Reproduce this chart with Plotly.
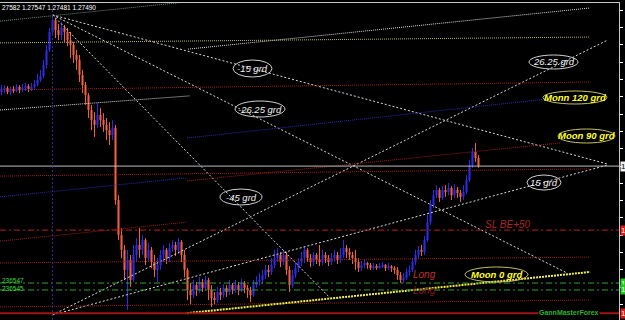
import plotly.graph_objects as go

# ---------------- data (prices in points: price = 1.27 + pts * 1e-5) ----------------
BASE = 1.27
PT = 1e-5

open_pts = [704,710,716,704,713,707,719,710,716,721,
            713,719,727,739,750,782,826,878,912,883,
            869,889,878,854,840,811,797,753,724,695,
            652,623,609,638,623,609,594,580,600,392,
            291,248,190,219,161,233,262,248,276,224,
            248,213,190,204,233,248,224,253,262,248,
            271,233,190,132,117,146,132,155,138,161,
            132,109,103,126,117,138,126,146,132,146,
            132,152,138,132,117,146,155,161,175,190,
            184,204,224,233,213,233,190,146,175,195,
            213,224,248,224,213,233,219,213,233,224,
            213,224,233,219,233,253,242,233,224,213,
            195,204,210,204,195,201,198,201,204,195,
            201,195,190,175,161,167,184,190,213,233,
            248,242,276,328,378,406,421,398,421,415,
            427,406,421,412,401,415,450,493,531,513]
high_pts = [724,724,721,719,721,727,724,727,730,727,
            730,739,756,768,797,840,889,927,918,901,
            906,898,889,878,849,826,811,768,733,701,
            667,646,672,658,643,629,617,623,609,406,
            311,262,248,233,262,282,311,291,282,268,
            256,233,224,248,262,253,268,276,271,282,
            276,248,195,152,161,155,169,164,172,167,
            146,126,141,138,149,146,161,152,161,155,
            164,158,146,141,161,172,181,190,204,204,
            224,248,253,242,248,242,201,190,213,224,
            242,259,253,236,242,239,262,248,242,233,
            239,248,242,253,276,262,253,242,248,224,
            216,219,213,210,210,207,210,213,207,210,
            204,201,198,184,181,195,204,224,248,259,
            262,288,349,392,421,435,427,432,435,441,
            432,438,430,421,435,464,508,542,557,522]
low_pts = [695,701,698,695,701,704,701,704,707,704,
           707,713,721,733,745,773,820,872,860,854,
           854,849,837,802,788,768,733,701,667,629,
           594,574,600,603,589,565,551,565,378,276,
           224,161,74,141,155,213,224,233,204,213,
           195,169,155,190,213,207,213,242,230,236,
           213,169,103,89,109,115,123,126,129,103,
           83,89,94,103,109,112,117,120,123,117,
           126,123,109,97,112,138,146,149,164,169,
           175,195,213,198,204,175,126,138,167,184,
           201,210,213,198,201,207,201,204,210,201,
           204,213,207,210,224,224,219,207,190,184,
           187,195,193,190,190,190,193,195,187,190,
           184,178,161,152,152,161,172,184,204,224,
           230,233,271,320,369,398,386,392,401,406,
           392,398,398,386,392,409,444,485,502,485]
close_pts = [710,716,704,713,707,719,710,716,721,713,
             719,727,739,750,782,826,878,912,883,869,
             889,878,854,840,811,797,753,724,695,652,
             623,609,638,623,609,594,580,600,392,291,
             248,190,219,161,233,262,248,276,224,248,
             213,190,204,233,248,224,253,262,248,271,
             233,190,132,117,146,132,155,138,161,132,
             109,103,126,117,138,126,146,132,146,132,
             152,138,132,117,146,155,161,175,190,184,
             204,224,233,213,233,190,146,175,195,213,
             224,248,224,213,233,219,213,233,224,213,
             224,233,219,233,253,242,233,224,213,195,
             204,210,204,195,201,198,201,204,195,201,
             195,190,175,161,167,184,190,213,233,248,
             242,276,328,378,406,421,398,421,415,427,
             406,421,412,401,415,450,493,531,513,490]

# Gann fans (anchor bar, anchor price pts) and end points
fan_high_anchor = (17, 927)
fan_high_names = ["-15 grd", "-26.25 grd", "-45 grd"]
fan_high_end_bar = [202, 188.5, 109.5]
fan_high_end_pts = [496, 181, 109]
fan_low_anchor = (17, 60)
fan_low_names = ["26.25 grd", "15 grd"]
fan_low_end_bar = [202, 202]
fan_low_end_pts = [854, 493]

# trend / moon lines
tl_names = ["A", "B", "C", "D", "E", "F", "G1", "G2", "H", "J", "K", "M", "Moon0"]
tl_x0 = [-0.5, 62.2, -0.5, -0.5, -0.5, 61.8, -0.5, 61.8, -0.5, -0.5, -0.5, -0.5, 61.8]
tl_p0 = [909, 828, 846, 710, 652, 571, 461, 447, 401, 273, 210, 83, 65]
tl_x1 = [61.2, 196.2, 196.2, 196.2, 62.8, 181.8, 196.2, 186.2, 61.8, 61.8, 196.2, 196.2, 196.2]
tl_p1 = [964, 947, 863, 733, 693, 684, 482, 557, 456, 328, 227, 103, 184]

# horizontal levels
lvl_names = ["SL", "G_hi", "G_lo", "Stop", "Bid"]
lvl_pts = [305, 152, 132, 65, 490]

high_bar = 17
tick_prices = [1.27090 + 0.0005 * k for k in range(18)]
header_text = "27582 1.27547 1.27481 1.27490"

# ---------------- styles ----------------
UP = "#2b2be8"
DN = "#f0603c"
tl_style = {
    "A": dict(color="#6e8c78", width=1, dash="1px,1px"),
    "B": dict(color="#dcdcdc", width=1, dash="1px,1px"),
    "C": dict(color="#bdb76b", width=1, dash="1px,1px"),
    "D": dict(color="#a01c1c", width=1, dash="1px,1px"),
    "E": dict(color="#dcdcdc", width=1, dash="1px,1px"),
    "F": dict(color="#2a2ab4", width=1, dash="1px,1px"),
    "G1": dict(color="#a01c1c", width=1, dash="1px,1px"),
    "G2": dict(color="#a01c1c", width=1, dash="1px,1px"),
    "H": dict(color="#2a2ab4", width=1, dash="1px,1px"),
    "J": dict(color="#a01c1c", width=1, dash="1px,1px"),
    "K": dict(color="#a01c1c", width=1, dash="1px,1px"),
    "M": dict(color="#a01c1c", width=1, dash="1px,1px"),
    "Moon0": dict(color="#f4f040", width=2, dash="2px,1px"),
}
lvl_style = {
    "SL": dict(color="#b42020", width=1, dash="6px,3px,2px,3px"),
    "G_hi": dict(color="#32a032", width=1, dash="6px,3px,2px,3px"),
    "G_lo": dict(color="#32a032", width=1, dash="6px,3px,2px,3px"),
    "Stop": dict(color="#a01414", width=2, dash="solid"),
    "Bid": dict(color="#bcbcbc", width=1, dash="solid"),
}
lvl_box = {"SL": ("#e01818", "white"), "G_hi": ("#1ec81e", "white"), "G_lo": ("#1ec81e", "white"),
           "Stop": ("#e01818", "white"), "Bid": ("#f0f0f0", "black")}

def P(p):
    return BASE + p * PT

W, H = 625, 320
ML, MR, MT, MB = 0, 6, 3, 0
PW, PH = W - ML - MR, H - MT - MB
def fx(px):
    return (px - ML) / PW
def fy(py):
    return (H - MB - py) / PH

fig = go.Figure()

# candle bodies
for up in (True, False):
    xs, base, hgt = [], [], []
    for i, (o, c) in enumerate(zip(open_pts, close_pts)):
        if (c >= o) == up:
            xs.append(i)
            base.append(P(min(o, c)))
            hgt.append(max(abs(c - o), 3) * PT)
    fig.add_trace(go.Bar(x=xs, y=hgt, base=base, width=0.7,
                         marker=dict(color=UP if up else DN, line=dict(width=0)),
                         hoverinfo="skip"))

# wicks
for up in (True, False):
    wx, wy = [], []
    for i, (o, hh, ll, c) in enumerate(zip(open_pts, high_pts, low_pts, close_pts)):
        if (c >= o) == up:
            wx += [i, i, None]
            wy += [P(ll), P(hh), None]
    fig.add_trace(go.Scatter(x=wx, y=wy, mode="lines",
                             line=dict(color=UP if up else DN, width=1), hoverinfo="skip"))

# fan lines
fan_line = dict(color="#d8d8d8", width=1, dash="2px,2px")
for xb, pe in zip(fan_high_end_bar, fan_high_end_pts):
    fig.add_trace(go.Scatter(x=[fan_high_anchor[0], xb], y=[P(fan_high_anchor[1]), P(pe)],
                             mode="lines", line=fan_line, hoverinfo="skip"))
for xb, pe in zip(fan_low_end_bar, fan_low_end_pts):
    fig.add_trace(go.Scatter(x=[fan_low_anchor[0], xb], y=[P(fan_low_anchor[1]), P(pe)],
                             mode="lines", line=fan_line, hoverinfo="skip"))

# trend lines
for n, x0, p0, x1, p1 in zip(tl_names, tl_x0, tl_p0, tl_x1, tl_p1):
    fig.add_trace(go.Scatter(x=[x0, x1], y=[P(p0), P(p1)], mode="lines",
                             line=tl_style[n], hoverinfo="skip"))

XR = [-0.5, PW / 3 - 0.5]
# horizontal levels
for n, p in zip(lvl_names, lvl_pts):
    fig.add_trace(go.Scatter(x=XR, y=[P(p), P(p)], mode="lines",
                             line=lvl_style[n], hoverinfo="skip"))

shapes = []
# vertical dotted line at the high
shapes.append(dict(type="line", xref="x", yref="paper", x0=high_bar, x1=high_bar, y0=0, y1=1,
                   line=dict(color="#2a2aa0", width=1, dash="2px,2px")))

# ellipse labels: (text, x0, x1, y0, y1, kind)
labels = [
    ("-15 grd", 233, 272, 60, 77, "w"),
    ("-26.25 grd", 235, 285, 101, 117, "w"),
    ("-45 grd", 220, 262, 189, 205, "w"),
    ("26.25 grd", 529, 578, 55, 69, "w"),
    ("Monn 120 grd", 543, 607, 91, 104, "y"),
    ("Moon 90 grd", 558, 615, 129, 143, "y"),
    ("15 grd", 527, 561, 175, 190, "w"),
    ("Moon 0 grd", 465, 528, 267, 282, "y"),
]
annos = []
for t, x0, x1, y0, y1, k in labels:
    col = "#d0d0d0" if k == "w" else "#c8c060"
    shapes.append(dict(type="circle", xref="paper", yref="paper",
                       x0=fx(x0), x1=fx(x1), y0=fy(y1), y1=fy(y0),
                       line=dict(color=col, width=1), layer="above"))
    txt = "<i>%s</i>" % t if k == "w" else "<b><i>%s</i></b>" % t
    annos.append(dict(text=txt, xref="paper", yref="paper", x=fx((x0 + x1) / 2), y=fy((y0 + y1) / 2),
                      showarrow=False, xanchor="center", yanchor="middle",
                      font=dict(family="Liberation Sans", size=9.5,
                                color="#f4f4f4" if k == "w" else "#ffff20")))

def text(t, px, py, size, color, xanchor="left", bg=None):
    d = dict(text=t, xref="paper", yref="paper", x=fx(px), y=fy(py), showarrow=False,
             xanchor=xanchor, yanchor="middle",
             font=dict(family="Liberation Sans", size=size, color=color))
    if bg:
        d["bgcolor"] = bg
        d["borderpad"] = 0
    annos.append(d)

text(header_text, 0, 7, 6.5, "#ffffff")
text("236547", 0, 280, 6.5, "#3cdc3c")
text("236545", 0, 288, 6.5, "#3cdc3c")
text("<i>SL BE+50</i>", 508, 224, 10, "#a82424", "center")
text("<i>Long</i>", 424, 274, 10, "#c03028", "center")
text("<i>Long</i>", 424, 290, 10, "#801818", "center")
text("<b>GannMasterForex</b>", 569, 312, 7, "#30b030", "center", bg="#000000")

# price boxes on the right axis
for n, p in zip(lvl_names, lvl_pts):
    bgc, fc = lvl_box[n]
    annos.append(dict(text="%.5f" % P(p), xref="paper", yref="y", x=fx(620), y=P(p),
                      showarrow=False, xanchor="left", yanchor="middle", bgcolor=bgc,
                      borderpad=0, font=dict(family="Liberation Sans", size=8, color=fc)))

fig.update_layout(
    width=W, height=H, margin=dict(l=ML, r=MR, t=MT, b=MB),
    paper_bgcolor="#000000", plot_bgcolor="#000000",
    showlegend=False, barmode="overlay",
    shapes=shapes, annotations=annos,
    xaxis=dict(range=XR, showgrid=False, zeroline=False, showticklabels=False, ticks="",
               showline=True, linecolor="#c8c8c8", linewidth=1, side="top", fixedrange=True),
    yaxis=dict(range=[P(970 - 2.89 * 320), P(970 - 2.89 * 3)], side="right",
               tickvals=tick_prices, ticktext=["%.4f" % v for v in tick_prices],
               ticks="outside", ticklen=3, tickcolor="#ffffff",
               tickfont=dict(family="Liberation Sans", size=8, color="#ffffff"),
               showline=True, linecolor="#c8c8c8", linewidth=1,
               showgrid=False, zeroline=False, automargin=False, fixedrange=True),
)

fig.write_html("out.html")
